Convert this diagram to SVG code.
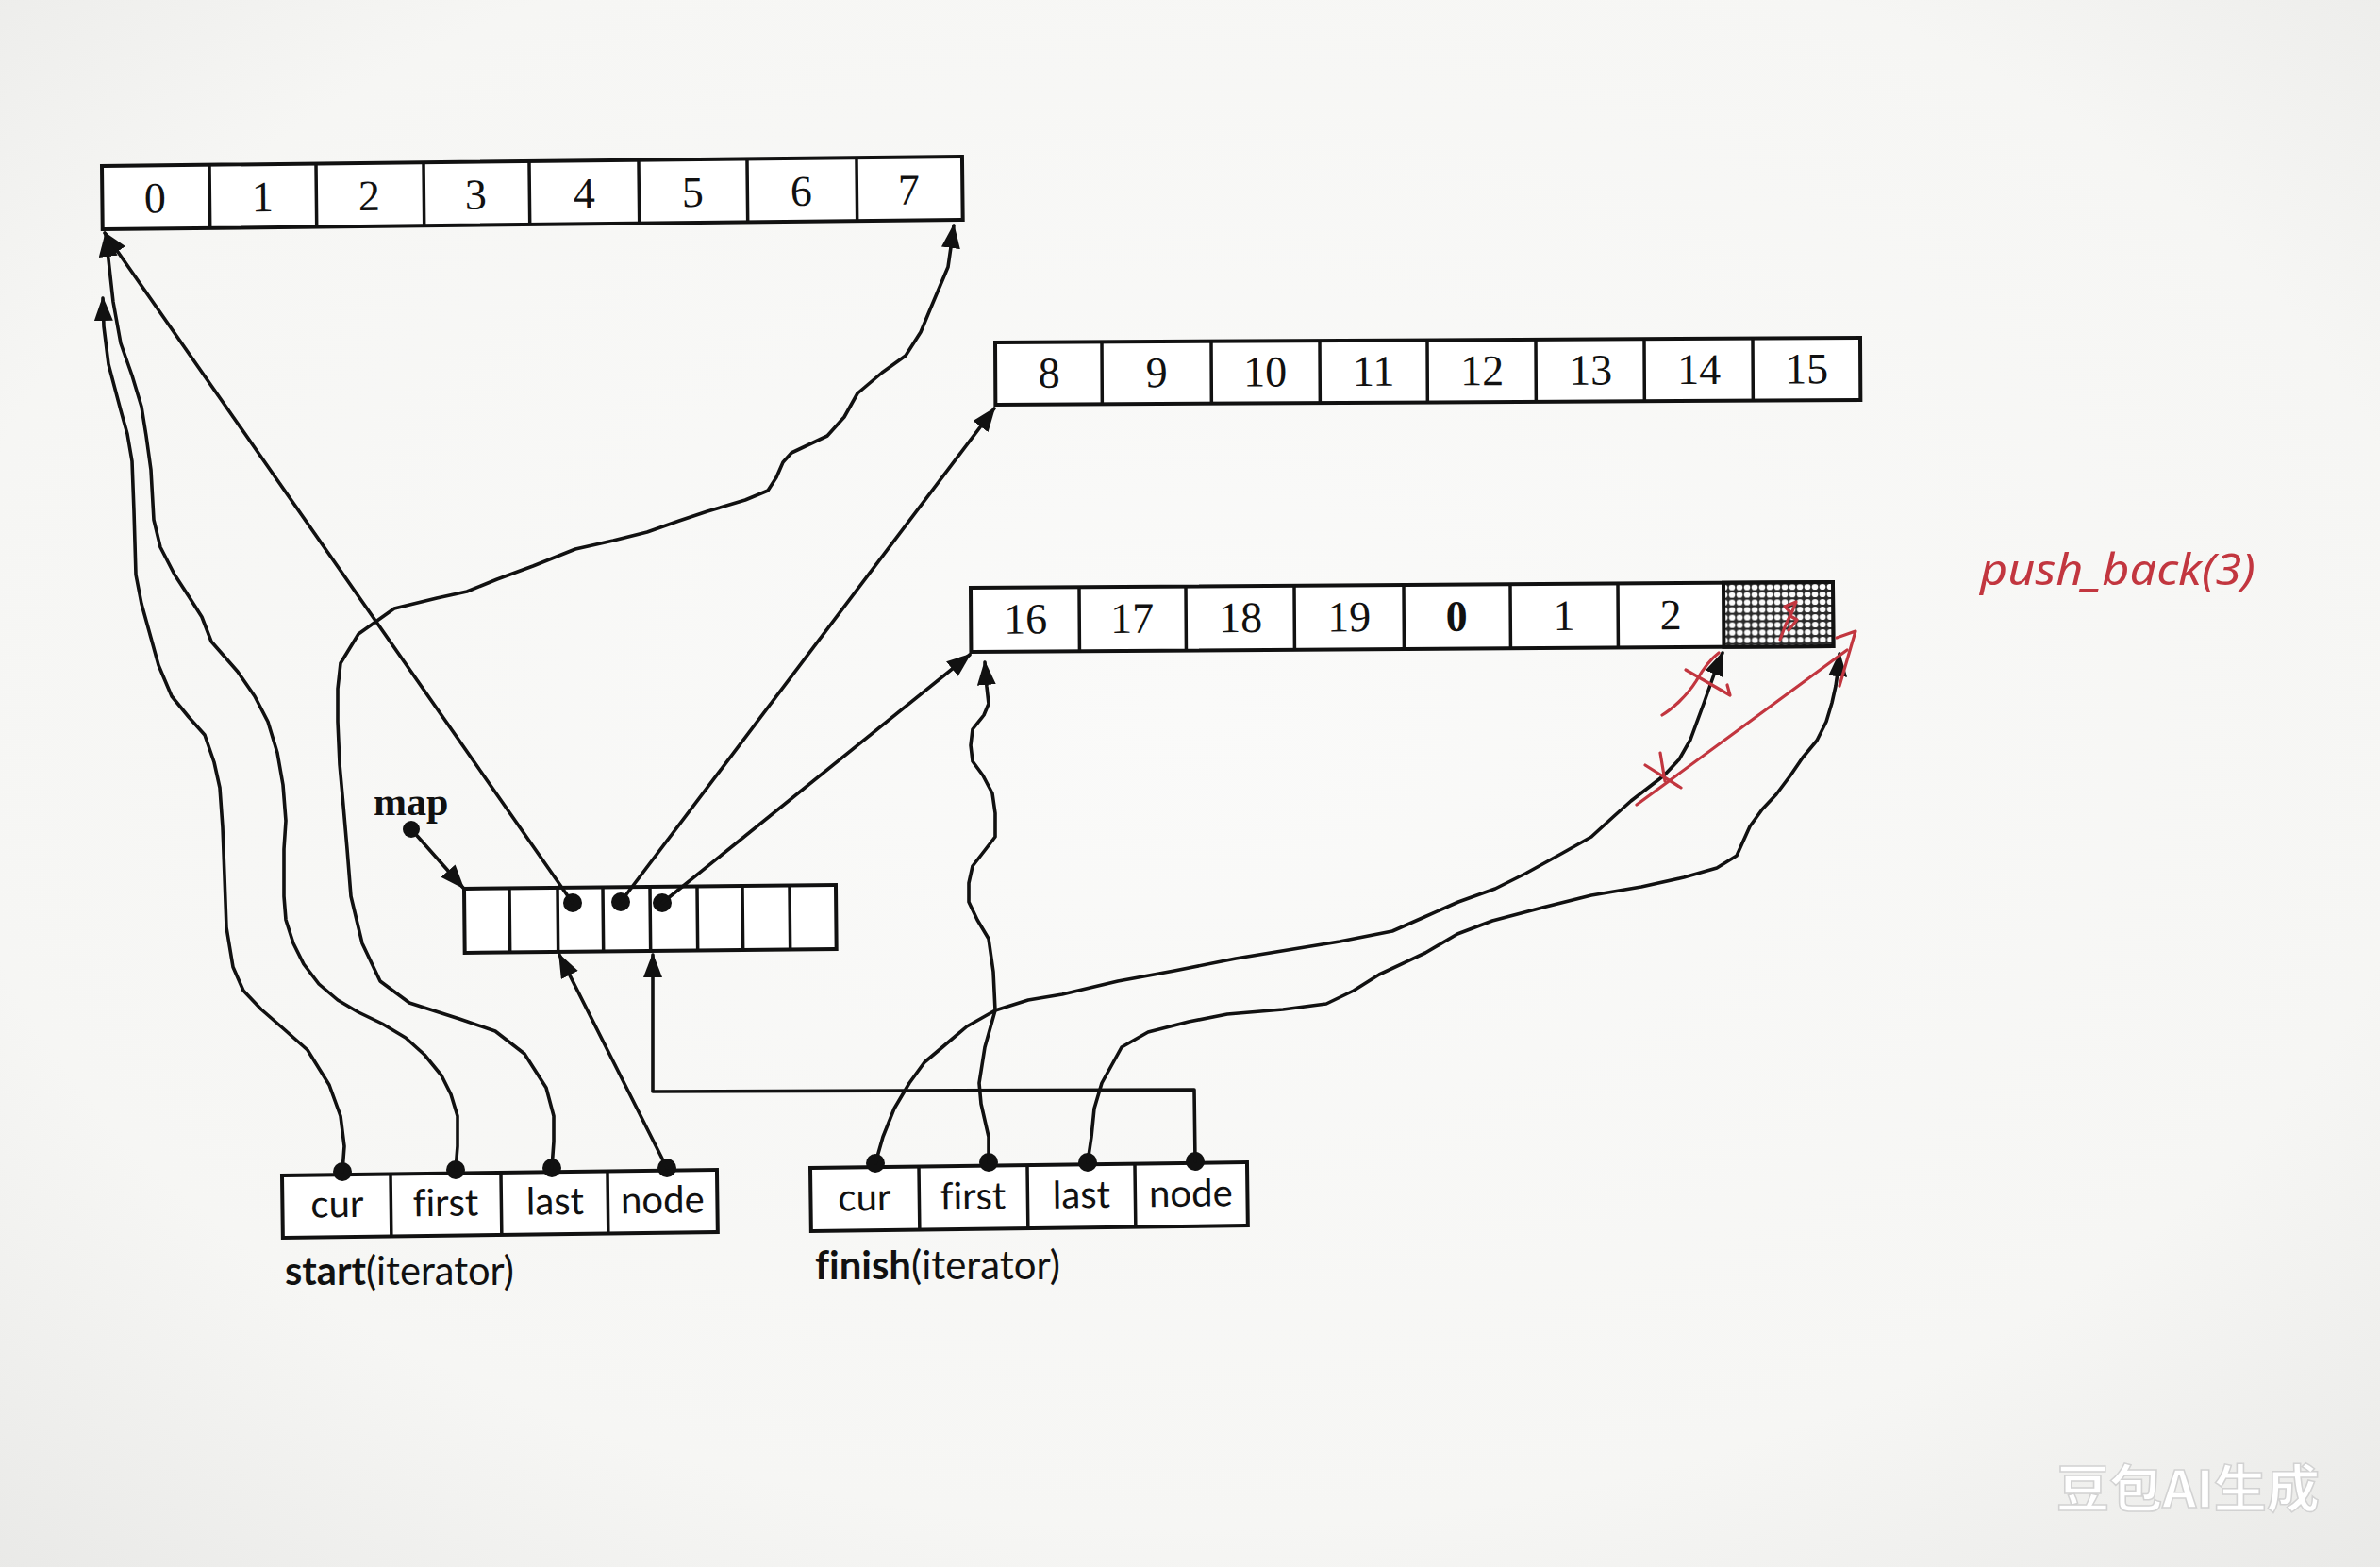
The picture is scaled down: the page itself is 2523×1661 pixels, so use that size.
<svg xmlns="http://www.w3.org/2000/svg" width="2523" height="1661" viewBox="0 0 2523 1661">
<defs>
  <radialGradient id="bg" cx="50%" cy="45%" r="75%">
    <stop offset="0" stop-color="#fafaf9"/>
    <stop offset="0.7" stop-color="#f6f6f4"/>
    <stop offset="1" stop-color="#e9e9e7"/>
  </radialGradient>
  <pattern id="dots" width="8" height="8" patternUnits="userSpaceOnUse">
    <rect width="8" height="8" fill="#2a2a2a"/>
    <ellipse cx="4" cy="4" rx="3.3" ry="3.1" fill="#fbfbfb"/>
  </pattern>
  <marker id="ah" markerUnits="userSpaceOnUse" markerWidth="26" markerHeight="20" viewBox="0 0 26 20" refX="24" refY="10" orient="auto">
    <path d="M0,0 L26,10 L0,20 z" fill="#111"/>
  </marker>
  <style>
    .box{fill:#fff;stroke:#111;stroke-width:4}
    .div{stroke:#111;stroke-width:3.5}
    .num{font-family:"Liberation Serif","DejaVu Serif",serif;font-size:46px;fill:#111;text-anchor:middle}
    .fld{font-family:Lato,"Liberation Sans",sans-serif;font-size:40px;fill:#111;text-anchor:middle;font-variant-ligatures:none}
    .cap{font-family:Lato,"Liberation Sans",sans-serif;font-size:42px;fill:#111;font-variant-ligatures:none}
    .con{fill:none;stroke:#111;stroke-width:3.6;stroke-linejoin:round;stroke-linecap:round}
    .arr{marker-end:url(#ah)}
    .dot{fill:#111}
    .red{fill:none;stroke:#c2363f;stroke-width:3.2;stroke-linecap:round;stroke-linejoin:round}
  </style>
</defs>
<rect width="2523" height="1661" fill="url(#bg)"/>

<g id="buffer0" transform="rotate(-0.63 108 176)">
  <rect class="box" x="108" y="176" width="912" height="67"/>
  <path class="div" d="M222,176V243M335,176V243M449,176V243M561,176V243M677,176V243M792,176V243M908,176V243"/>
  <text class="num" y="226"><tspan x="164">0</tspan><tspan x="278">1</tspan><tspan x="391">2</tspan><tspan x="504">3</tspan><tspan x="619">4</tspan><tspan x="734">5</tspan><tspan x="849">6</tspan><tspan x="963">7</tspan></text>
</g>

<g id="buffer1" transform="rotate(-0.31 1055 363)">
  <rect class="box" x="1055" y="363" width="917" height="66"/>
  <path class="div" d="M1168,363V429M1284,363V429M1399,363V429M1513,363V429M1628,363V429M1743,363V429M1858,363V429"/>
  <text class="num" y="411"><tspan x="1112">8</tspan><tspan x="1226">9</tspan><tspan x="1341">10</tspan><tspan x="1456">11</tspan><tspan x="1571">12</tspan><tspan x="1686">13</tspan><tspan x="1801">14</tspan><tspan x="1915">15</tspan></text>
</g>

<g id="buffer2" transform="rotate(-0.38 1029 623)">
  <rect class="box" x="1029" y="623" width="914" height="68"/>
  <rect x="1827" y="623" width="116" height="68" fill="url(#dots)" stroke="#111" stroke-width="4"/>
  <path class="div" d="M1144,623V691M1257,623V691M1372,623V691M1488,623V691M1601,623V691M1715,623V691"/>
  <text class="num" y="672"><tspan x="1087">16</tspan><tspan x="1200">17</tspan><tspan x="1315">18</tspan><tspan x="1430">19</tspan><tspan x="1544" font-weight="bold">0</tspan><tspan x="1658">1</tspan><tspan x="1771">2</tspan></text>
</g>

<g id="map">
  <g transform="rotate(-0.58 492 942)">
    <rect class="box" x="492" y="942" width="394" height="68"/>
    <path class="div" d="M540,942V1010M591,942V1010M639,942V1010M689,942V1010M739,942V1010M787,942V1010M837,942V1010"/>
  </g>
  <circle class="dot" cx="607" cy="957" r="10"/>
  <circle class="dot" cx="658" cy="956" r="10"/>
  <circle class="dot" cx="702" cy="957" r="10"/>
</g>

<g id="map-label">
  <text x="396" y="864" font-family="'Liberation Serif','DejaVu Serif',serif" font-weight="bold" font-size="42" fill="#111">map</text>
  <circle class="dot" cx="436" cy="879" r="9"/>
</g>

<g id="start">
  <g transform="rotate(-0.75 299 1246)">
    <rect class="box" x="299" y="1246" width="461" height="66"/>
    <path class="div" d="M414,1246V1312M531,1246V1312M644,1246V1312"/>
    <text class="fld" y="1291"><tspan x="357">cur</tspan><tspan x="472">first</tspan><tspan x="588">last</tspan><tspan x="702">node</tspan></text>
  </g>
  <circle class="dot" cx="363" cy="1242" r="10"/>
  <circle class="dot" cx="483" cy="1240" r="10"/>
  <circle class="dot" cx="585" cy="1238" r="10"/>
  <circle class="dot" cx="707" cy="1238" r="10"/>
  <text class="cap" x="302" y="1362" textLength="243" lengthAdjust="spacingAndGlyphs"><tspan font-weight="bold">start</tspan>(iterator)</text>
</g>

<g id="finish">
  <g transform="rotate(-0.74 859 1238)">
    <rect class="box" x="859" y="1238" width="463" height="67"/>
    <path class="div" d="M974,1238V1305M1089,1238V1305M1203,1238V1305"/>
    <text class="fld" y="1284"><tspan x="916">cur</tspan><tspan x="1031">first</tspan><tspan x="1146">last</tspan><tspan x="1262">node</tspan></text>
  </g>
  <circle class="dot" cx="928" cy="1233" r="10"/>
  <circle class="dot" cx="1048" cy="1232" r="10"/>
  <circle class="dot" cx="1153" cy="1232" r="10"/>
  <circle class="dot" cx="1267" cy="1231" r="10"/>
  <text class="cap" x="864" y="1356" textLength="260" lengthAdjust="spacingAndGlyphs"><tspan font-weight="bold">finish</tspan>(iterator)</text>
</g>

<g id="connectors">
  <path class="con arr" d="M436,879 L491,941"/>
  <path class="con arr" d="M607,957 L111,247"/>
  <path class="con arr" d="M658,956 L1054,433"/>
  <path class="con arr" d="M702,957 L1028,694"/>
  <path class="con arr" d="M707,1238 L593,1012"/>
  <path class="con arr" d="M1267,1231 L1266,1155 L692,1157 L692,1012"/>
  <path class="con arr" d="M363,1242 L365,1215 L361,1183 L349,1150 L326,1113 L300,1090 L277,1070 L258,1050 L247,1025 L240,983 L238,929 L236,877 L233,835 L227,808 L217,779 L200,760 L182,738 L168,705 L160,676 L150,640 L144,609 L142,542 L140,489 L135,460 L128,435 L115,386 L110,346 L109,316"/>
  <path class="con arr" d="M483,1240 L485,1215 L485,1183 L478,1160 L468,1140 L450,1118 L430,1100 L405,1085 L380,1073 L358,1060 L338,1043 L322,1022 L311,1000 L303,975 L301,950 L301,900 L303,870 L300,832 L294,798 L284,765 L270,738 L252,712 L224,680 L214,654 L200,632 L185,609 L170,580 L163,551 L160,498 L155,462 L150,431 L140,398 L128,364 L120,320 L115,275 L112,248"/>
  <path class="con arr" d="M585,1238 L587,1210 L587,1183 L579,1153 L556,1117 L525,1093 L487,1080 L434,1063 L403,1040 L384,1000 L372,950 L368,900 L364,854 L360,810 L358,765 L358,730 L361,703 L380,672 L418,645 L463,634 L495,627 L527,614 L565,600 L610,582 L650,573 L686,564 L720,552 L750,542 L790,530 L814,520 L823,506 L830,490 L839,480 L877,462 L895,442 L909,417 L935,395 L960,377 L976,352 L986,328 L1005,283 L1008,262 L1011,239"/>
  <path class="con arr" d="M928,1233 L936,1205 L948,1175 L964,1148 L980,1126 L999,1110 L1025,1088 L1055,1071 L1090,1060 L1126,1054 L1185,1040 L1245,1029 L1310,1016 L1371,1006 L1420,998 L1476,987 L1510,972 L1546,956 L1585,942 L1617,926 L1655,905 L1687,887 L1710,866 L1729,849 L1764,822 L1780,805 L1792,784 L1806,746 L1818,712 L1826,692"/>
  <path class="con arr" d="M1048,1232 L1048,1205 L1040,1170 L1038,1148 L1044,1110 L1055,1071 L1053,1030 L1048,995 L1036,975 L1027,956 L1027,936 L1031,918 L1045,900 L1055,887 L1055,862 L1052,841 L1042,822 L1031,807 L1029,790 L1031,773 L1043,758 L1048,746 L1046,728 L1044,702"/>
  <path class="con arr" d="M1153,1232 L1157,1205 L1160,1175 L1168,1148 L1189,1110 L1217,1094 L1260,1083 L1301,1075 L1360,1070 L1406,1064 L1435,1050 L1462,1033 L1511,1010 L1545,990 L1582,976 L1635,962 L1687,949 L1740,940 L1785,930 L1820,920 L1841,907 L1855,876 L1868,858 L1883,842 L1898,822 L1911,803 L1926,785 L1936,765 L1942,745 L1946,727 L1949,706 L1950,693"/>
</g>

<g id="annotations">
  <text x="2099" y="620" font-family="'Noto Sans','Open Sans',sans-serif" font-style="italic" font-size="46" fill="#c2363f" textLength="292" lengthAdjust="spacingAndGlyphs">push_back(3)</text>
  <path class="red" d="M1887,678 L1893,662 L1899,650 L1892,643 L1904,638 L1898,653 L1905,657 L1896,668"/>
  <path class="red" d="M1762,758 C1772,752 1788,738 1798,722 C1806,708 1814,698 1822,692"/>
  <path class="red" d="M1787,710 L1834,737 L1831,726"/>
  <path class="red" d="M1744,811 L1782,835 M1760,798 L1765,828"/>
  <path class="red" d="M1735,853 L1958,689"/>
  <path class="red" d="M1950,727 L1967,669 L1947,676"/>
</g>

<text x="2180" y="1598" font-family="'Noto Sans CJK SC',sans-serif" font-weight="bold" font-size="54" fill="#ffffff" stroke="#d2d2d2" stroke-width="1.5" textLength="279" lengthAdjust="spacingAndGlyphs">豆包AI生成</text>
</svg>
